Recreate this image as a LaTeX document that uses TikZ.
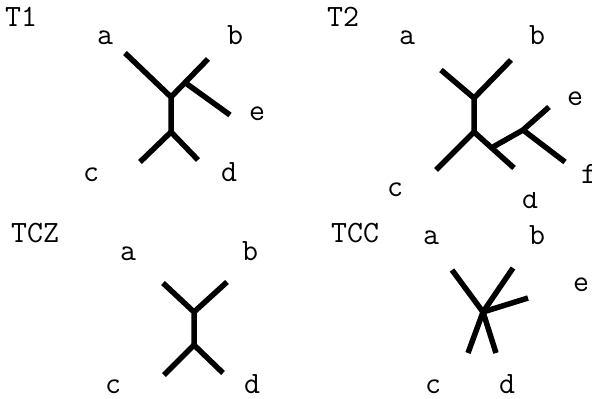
\documentclass[tikz,border=0pt]{standalone}
\begin{document}
\begin{tikzpicture}[x=1pt,y=-1pt,
  lbl/.style={inner sep=0pt,anchor=base,font=\fontsize{31}{31}\ttfamily},
  ttl/.style={inner sep=0pt,anchor=base west,font=\fontsize{31}{31}\ttfamily},
  br/.style={line width=5.5pt,black}]
\useasboundingbox (0,0) rectangle (592,399);
% ---------- T1 ----------
\node[ttl] (t1) at (5,26) {T1};
\node[lbl] (t1a) at (105,44) {a};
\node[lbl] (t1b) at (235,44) {b};
\node[lbl] (t1e) at (257,120) {e};
\node[lbl] (t1c) at (91,181) {c};
\node[lbl] (t1d) at (229,181) {d};
\coordinate (t1A) at (125,53);
\coordinate (t1B) at (208,59);
\coordinate (t1E) at (230,115);
\coordinate (t1C) at (140,162);
\coordinate (t1D) at (198,160);
\coordinate (t1u) at (171,97);
\coordinate (t1v) at (187,84);
\coordinate (t1l) at (171,132);
\draw[br] (t1A) -- (t1u) -- (t1l);
\draw[br] (t1u) -- (t1B);
\draw[br] (t1v) -- (t1E);
\draw[br] (t1C) -- (t1l) -- (t1D);
% ---------- T2 ----------
\node[ttl] (t2) at (327,26) {T2};
\node[lbl] (t2a) at (407,44) {a};
\node[lbl] (t2b) at (537,44) {b};
\node[lbl] (t2e) at (575,105) {e};
\node[lbl] (t2f) at (589,183) {f};
\node[lbl] (t2c) at (395,196) {c};
\begin{scope}
\clip (500,192) rectangle (560,215);
\node[lbl] (t2d) at (530,208) {d};
\end{scope}
\coordinate (t2A) at (441,70);
\coordinate (t2B) at (511,60);
\coordinate (t2C) at (436,170);
\coordinate (t2D) at (514,168);
\coordinate (t2E) at (549,107);
\coordinate (t2F) at (565,162);
\coordinate (t2u) at (474,98);
\coordinate (t2l) at (474,132);
\coordinate (t2m) at (493,147);
\coordinate (t2n) at (523,130);
\draw[br] (t2A) -- (t2u) -- (t2l);
\draw[br] (t2u) -- (t2B);
\draw[br] (t2C) -- (t2l) -- (t2D);
\draw[br] (t2m) -- (t2n) -- (t2E);
\draw[br] (t2n) -- (t2F);
% ---------- TCZ ----------
\node[ttl] (tcz) at (11,242) {TCZ};
\node[lbl] (tza) at (128,260) {a};
\node[lbl] (tzb) at (250,260) {b};
\node[lbl] (tzc) at (113,393) {c};
\node[lbl] (tzd) at (252,393) {d};
\coordinate (tzA) at (163,283);
\coordinate (tzB) at (227,282);
\coordinate (tzC) at (164,375);
\coordinate (tzD) at (223,373);
\coordinate (tzu) at (194,312);
\coordinate (tzl) at (194,345);
\draw[br] (tzA) -- (tzu) -- (tzl);
\draw[br] (tzu) -- (tzB);
\draw[br] (tzC) -- (tzl) -- (tzD);
% ---------- TCC ----------
\node[ttl] (tcc) at (331,242) {TCC};
\node[lbl] (tca) at (431,244) {a};
\node[lbl] (tcb) at (537,244) {b};
\node[lbl] (tce) at (581,291) {e};
\node[lbl] (tcc2) at (433,393) {c};
\node[lbl] (tcd) at (507,393) {d};
\coordinate (tcA) at (452,270);
\coordinate (tcB) at (513,268);
\coordinate (tcE) at (528,298);
\coordinate (tcC) at (468,353);
\coordinate (tcD) at (496,353);
\coordinate (tcm) at (483,312);
\draw[br] (tcA) -- (tcm) -- (tcD);
\draw[br] (tcB) -- (tcm) -- (tcC);
\draw[br] (tcm) -- (tcE);
\end{tikzpicture}
\end{document}
